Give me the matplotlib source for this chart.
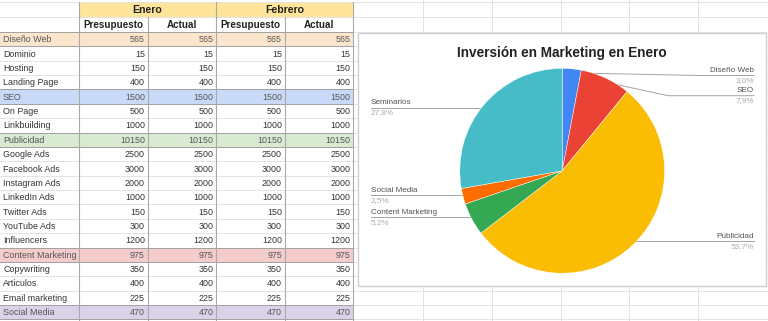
import numpy as np
import matplotlib
matplotlib.use("Agg")
import matplotlib.pyplot as plt
from matplotlib.patches import Rectangle

plt.rcParams['font.family'] = ['Liberation Sans', 'DejaVu Sans']

# ---------------- data ----------------
months = ["Enero", "Febrero"]
col_headers = ["Presupuesto", "Actual", "Presupuesto", "Actual"]
categories = ["Diseño Web", "Dominio", "Hosting", "Landing Page", "SEO", "On Page",
              "Linkbuilding", "Publicidad", "Google Ads", "Facebook Ads", "Instagram Ads",
              "LinkedIn Ads", "Twitter Ads", "YouTube Ads", "Influencers",
              "Content Marketing", "Copywriting", "Articulos", "Email marketing",
              "Social Media"]
ene_presupuesto = [565, 15, 150, 400, 1500, 500, 1000, 10150, 2500, 3000, 2000, 1000,
                   150, 300, 1200, 975, 350, 400, 225, 470]
ene_actual = [565, 15, 150, 400, 1500, 500, 1000, 10150, 2500, 3000, 2000, 1000,
              150, 300, 1200, 975, 350, 400, 225, 470]
feb_presupuesto = [565, 15, 150, 400, 1500, 500, 1000, 10150, 2500, 3000, 2000, 1000,
                   150, 300, 1200, 975, 350, 400, 225, 470]
feb_actual = [565, 15, 150, 400, 1500, 500, 1000, 10150, 2500, 3000, 2000, 1000,
              150, 300, 1200, 975, 350, 400, 225, 470]
group_rows = {"Diseño Web": "#fce5cd", "SEO": "#c9daf8", "Publicidad": "#d9ead3",
              "Content Marketing": "#f4cccc", "Social Media": "#d9d2e9"}

pie_title = "Inversión en Marketing en Enero"
pie_labels = ["Diseño Web", "SEO", "Publicidad", "Content Marketing", "Social Media", "Seminarios"]
pie_values = [565, 1500, 10150, 975, 470, 5250]
pie_colors = ["#4285f4", "#ea4335", "#fbbc04", "#34a853", "#ff6d01", "#46bdc6"]

# ---------------- layout ----------------
W, H = 768, 321
fig = plt.figure(figsize=(W / 100, H / 100), dpi=100)
bg = fig.add_axes([0, 0, 1, 1])
bg.set_xlim(0, W)
bg.set_ylim(H, 0)
bg.axis("off")

col_edges = [0, 79, 147.5, 216, 284.5, 353]
h1_top, h2_top, data_top, RH = 1.5, 16.8, 32.0, 14.37
n_rows = len(categories)
row_tops = [data_top + i * RH for i in range(n_rows + 1)]

light = "#e3e3e3"
mid = "#a9a9a9"

# empty grid area to the right
for x in [423, 492, 560.5, 629, 698]:
    bg.plot([x, x], [0, H], color=light, lw=0.7, zorder=0)
for y in [h1_top, h2_top] + row_tops:
    bg.plot([353, W], [y, y], color=light, lw=0.7, zorder=0)

# header rows
bg.add_patch(Rectangle((col_edges[1], h1_top), col_edges[5] - col_edges[1], h2_top - h1_top,
                       facecolor="#ffe599", edgecolor="none", zorder=1))
for i, m in enumerate(months):
    xc = (col_edges[1 + 2 * i] + col_edges[3 + 2 * i]) / 2
    bg.text(xc, (h1_top + h2_top) / 2 + 0.5, m, ha="center", va="center",
            fontsize=7.6, fontweight="bold", color="#222222", zorder=3)
for j, h in enumerate(col_headers):
    xc = (col_edges[1 + j] + col_edges[2 + j]) / 2
    bg.text(xc, (h2_top + data_top) / 2 + 0.5, h, ha="center", va="center",
            fontsize=7.1, fontweight="bold", color="#222222", zorder=3)

# data rows
cols = [ene_presupuesto, ene_actual, feb_presupuesto, feb_actual]
for i, cat in enumerate(categories):
    y0, y1 = row_tops[i], row_tops[i + 1]
    yc = (y0 + y1) / 2 + 0.5
    if cat in group_rows:
        bg.add_patch(Rectangle((0, y0), col_edges[5], RH, facecolor=group_rows[cat],
                               edgecolor="none", zorder=1))
        tc = "#555555"
    else:
        tc = "#333333"
    bg.text(3, yc, cat, ha="left", va="center", fontsize=6.4, color=tc, zorder=3)
    for j, c in enumerate(cols):
        bg.text(col_edges[j + 2] - 2.5, yc, str(c[i]), ha="right", va="center",
                fontsize=6.4, color=tc, zorder=3)

# horizontal grid lines
for y in [h1_top, h2_top] + row_tops:
    bg.plot([0, 353], [y, y], color=light, lw=0.7, zorder=2)
for i, cat in enumerate(categories):
    if cat in group_rows:
        for y in (row_tops[i], row_tops[i + 1]):
            bg.plot([0, 353], [y, y], color="#a0a0a0", lw=0.7, zorder=2)
# vertical lines
for x in col_edges[1:]:
    bg.plot([x, x], [h2_top, H], color=mid, lw=0.8, zorder=2)
for x in [col_edges[1], col_edges[3], col_edges[5]]:
    bg.plot([x, x], [h1_top, h2_top], color=mid, lw=0.8, zorder=2)

# chart box
bg.add_patch(Rectangle((358, 33), 408, 253, facecolor="white", edgecolor="#cfcfcf",
                       lw=1.0, zorder=4))
bg.text(562, 53, pie_title, ha="center", va="center", fontsize=9.8,
        fontweight="bold", color="#222222", zorder=6)

# pie
CX, CY, R = 562.2, 170.8, 102.4
pax = fig.add_axes([(CX - R) / W, (H - CY - R) / H, 2 * R / W, 2 * R / H])
pax.pie(pie_values, colors=pie_colors, startangle=90, counterclock=False,
        wedgeprops=dict(edgecolor="white", linewidth=0.3))
pax.set_xlim(-1, 1)
pax.set_ylim(-1, 1)
pax.set_zorder(5)
pax.axis("off")

# labels with leader lines
total = float(sum(pie_values))
fracs = [v / total for v in pie_values]
cum = np.cumsum([0] + fracs[:-1])
mids = [90 - 360 * (c + f / 2) for c, f in zip(cum, fracs)]
label_side = ["R", "R", "R", "L", "L", "L"]
label_line_y = [75.5, 95.7, 241.2, 217.2, 195.2, 107.8]
elbow_x = [700, 668, None, None, None, None]
XR, XL = 754, 371
lc = "#a3a3a3"
for lab, f, a, side, ly, ex in zip(pie_labels, fracs, mids, label_side, label_line_y, elbow_x):
    ax_ = CX + 0.96 * R * np.cos(np.radians(a))
    ay_ = CY - 0.96 * R * np.sin(np.radians(a))
    xend = XR if side == "R" else XL
    if ex is None:
        xs, ys = [ax_, xend], [ly, ly]
        ay_ = ly
    else:
        xs, ys = [ax_, ex, xend], [ay_, ly, ly]
    bg.plot(xs, ys, color=lc, lw=0.7, zorder=6)
    bg.plot([ax_], [ay_], marker="o", ms=1.6, color="#bdbdbd", zorder=7)
    ha = "right" if side == "R" else "left"
    bg.text(xend, ly - 5.2, lab, ha=ha, va="center", fontsize=5.9, color="#555555", zorder=7)
    pct = f"{f * 100:.1f}%".replace(".", ",")
    bg.text(xend, ly + 5.2, pct, ha=ha, va="center", fontsize=5.9, color="#aaaaaa", zorder=7)

fig.savefig("out.png", dpi=100)
